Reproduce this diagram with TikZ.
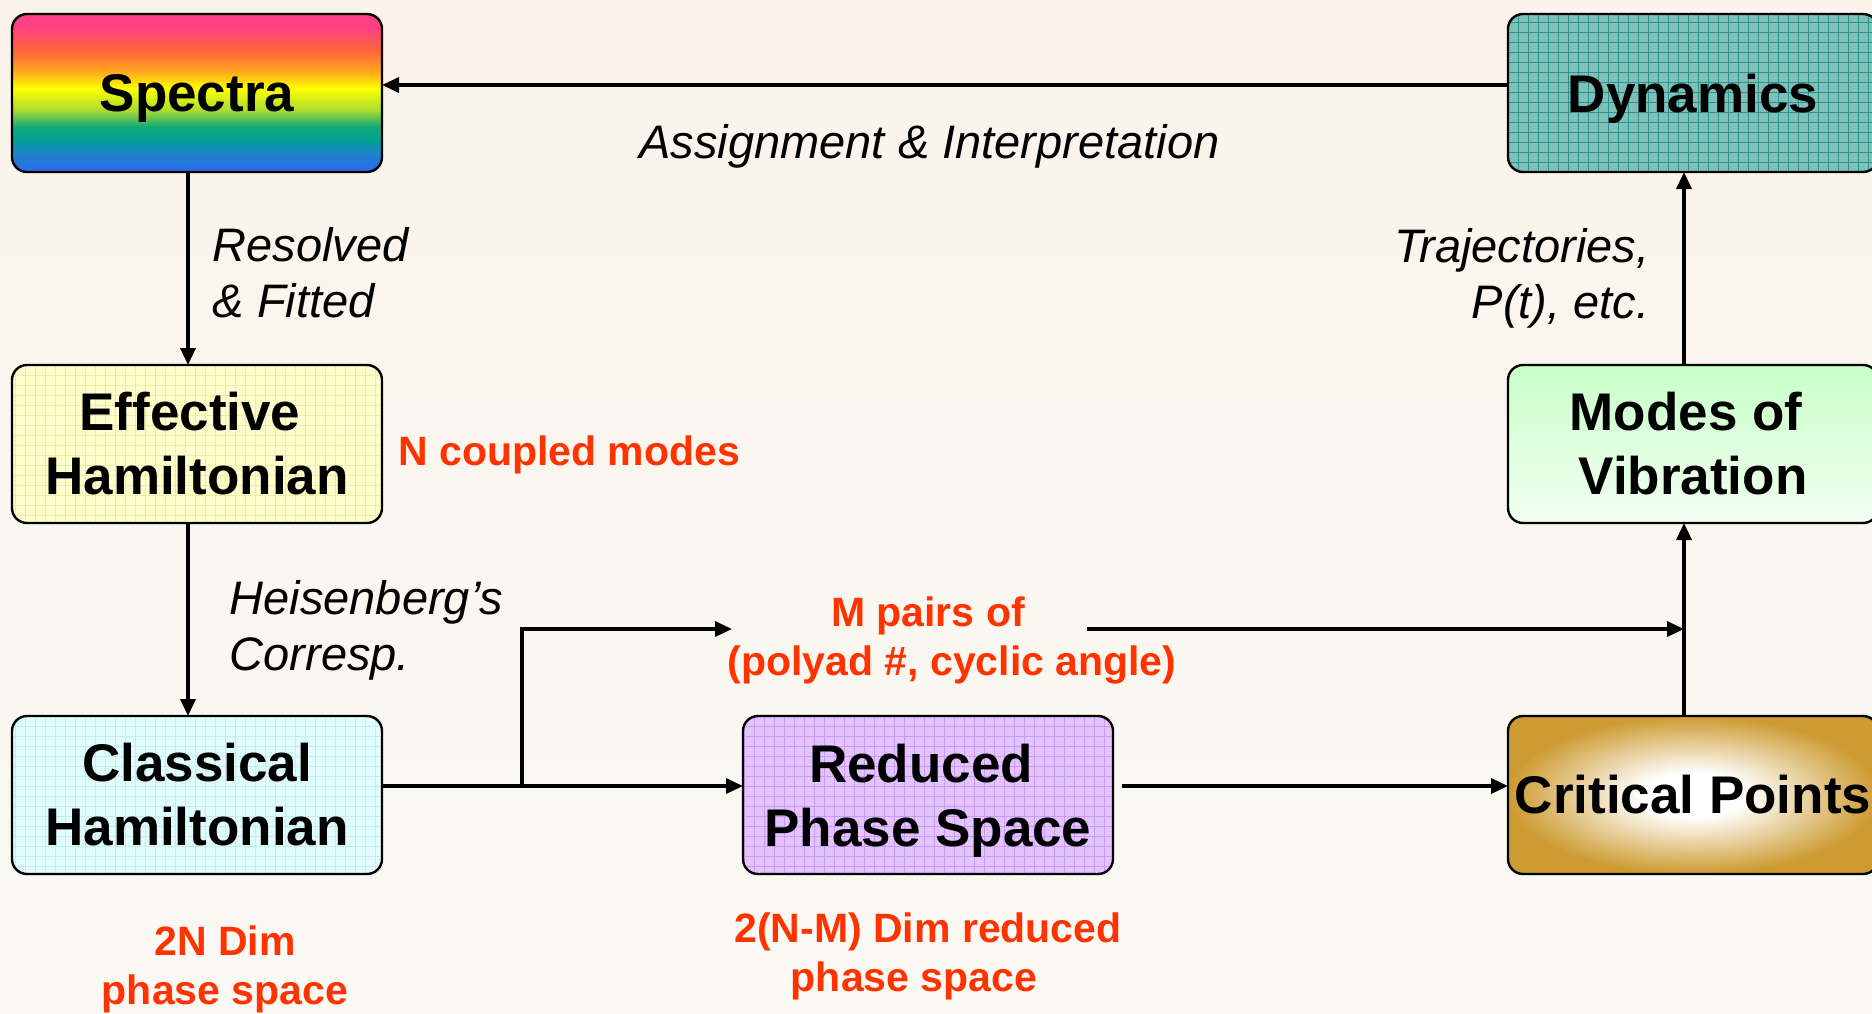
\documentclass[tikz,border=0pt]{standalone}
\usepackage{fontspec}
\setmainfont{Liberation Sans}
\usetikzlibrary{arrows.meta,positioning,calc}

\definecolor{bgtop}{RGB}{251,243,235}
\definecolor{bgbot}{RGB}{250,249,244}
\definecolor{notered}{RGB}{255,51,0}
\definecolor{effyellow}{RGB}{255,255,204}
\definecolor{effgrid}{RGB}{238,236,168}
\definecolor{clscyan}{RGB}{224,252,252}
\definecolor{clsgrid}{RGB}{200,236,236}
\definecolor{dynteal}{RGB}{128,192,184}
\definecolor{dyngrid}{RGB}{40,150,140}
\definecolor{rpslilac}{RGB}{228,196,255}
\definecolor{rpsgrid}{RGB}{200,155,245}
\definecolor{modetop}{RGB}{200,255,200}
\definecolor{modebot}{RGB}{242,255,242}
\definecolor{gold}{RGB}{205,155,50}
% rainbow stops, bottom (25bp) to top (75bp)
\definecolor{sp1}{RGB}{40,110,235}
\definecolor{sp2}{RGB}{30,130,200}
\definecolor{sp3}{RGB}{0,160,150}
\definecolor{sp4}{RGB}{20,170,120}
\definecolor{sp5}{RGB}{170,220,50}
\definecolor{sp6}{RGB}{255,255,0}
\definecolor{sp7}{RGB}{255,165,30}
\definecolor{sp8}{RGB}{255,100,60}
\definecolor{sp9}{RGB}{255,64,130}

\pgfdeclareverticalshading{spectrum}{100bp}{%
  color(0bp)=(sp1); color(26bp)=(sp1); color(31bp)=(sp2); color(35bp)=(sp3);
  color(39.5bp)=(sp4); color(44.5bp)=(sp5); color(51.5bp)=(sp6);
  color(57bp)=(sp7); color(63.5bp)=(sp8); color(71bp)=(sp9); color(100bp)=(sp9)}
\pgfdeclareradialshading{glow}{\pgfpoint{0bp}{0bp}}{%
  color(0bp)=(white); color(7bp)=(white); color(25bp)=(gold); color(50bp)=(gold)}

\newcommand\stagefont{\fontsize{26.5}{32}\selectfont\bfseries}
\newcommand\remarkfont{\fontsize{23.5}{28}\selectfont\itshape}
\newcommand\notefont{\fontsize{20.5}{24.5}\selectfont\bfseries}
\newcommand\trail{\hspace*{7pt}}

\tikzset{
    stage/.style={draw, rounded corners=7.5pt, line width=1.2pt, minimum width=185pt,
        minimum height=79pt, inner sep=2pt, outer sep=0pt, align=center, font=\stagefont},
    gridfill/.style={path picture={\draw[#1, line width=0.3pt, step=5pt]
        (path picture bounding box.south west) grid (path picture bounding box.north east);}},
    flow/.style={line width=1.7pt, -{Triangle[length=8.5pt,width=7.5pt]}},
    remark/.style={font=\remarkfont, align=left, inner sep=2pt},
    note/.style={font=\notefont, text=notered, align=center, inner sep=2pt}
}

\begin{document}
\begin{tikzpicture}[x=0.5pt, y=-0.5pt]
    \useasboundingbox (0,0) rectangle (1872,1013);
    \shade[top color=bgtop, bottom color=bgbot] (0,0) rectangle (1872,1013);

    % left column
    \node[stage, shading=spectrum, text depth=0pt] (spectra) at (197,93) {Spectra};
    \node[stage, fill=effyellow, gridfill=effgrid, below=96.5pt of spectra] (effham) {Effective\trail\\Hamiltonian};
    \node[stage, fill=clscyan, gridfill=clsgrid, below=96.5pt of effham] (clsham) {Classical\\Hamiltonian};
    % right column
    \node[stage, fill=dynteal, gridfill=dyngrid, text depth=0pt] (dynamics) at (1693,93) {Dynamics};
    \node[stage, top color=modetop, bottom color=modebot, below=96.5pt of dynamics] (modes) {Modes of\trail\\Vibration};
    \node[stage, shading=glow, below=96.5pt of modes] (critical) {Critical Points};
    % middle
    \node[stage, fill=rpslilac, gridfill=rpsgrid, right=180.5pt of clsham] (reduced) {Reduced\trail\\\smash{Phase Space}};

    \node[note, right=6pt of effham, yshift=-5.2pt] (ncoupled) {N coupled modes};
    \node[note, above=13.8pt of reduced, xshift=12pt] (pairs) {M pairs of\hspace*{24pt}\\(polyad \#, cyclic angle)};
    \node[note, below=23.5pt of clsham, xshift=14pt] (fulldim) {2N Dim\\phase space};
    \node[note, below=17pt of reduced] (reddim) {2(N-M) Dim reduced\\phase space\hspace*{14pt}};

    \coordinate (split) at (522,787);
    \coordinate (pairsin) at (732,629);
    \coordinate (pairsout) at (1087,629);
    \coordinate (join) at (1684,629);

    \path[flow] ([yshift=4pt]dynamics.west) edge node[remark, below, xshift=-7.75pt, yshift=-17pt] {Assignment \& Interpretation} ([yshift=4pt]spectra.east);
    \path[flow] ([xshift=-4.5pt]spectra.south) edge node[remark, right, xshift=9.5pt, yshift=-2pt] {Resolved\\\& Fitted} ([xshift=-4.5pt]effham.north);
    \path[flow] ([xshift=-4.5pt]effham.south) edge node[remark, right, xshift=18pt, yshift=-5.5pt] {Heisenberg’s\\Corresp.} ([xshift=-4.5pt]clsham.north);
    \path[flow] ([xshift=-4.5pt]modes.north) edge node[remark, left, align=right, xshift=-14.5pt, yshift=-5pt] {Trajectories,\\P(t), etc.} ([xshift=-4.5pt]dynamics.south);
    \path[flow] ([xshift=-4.5pt]critical.north) edge ([xshift=-4.5pt]modes.south);
    \path[flow] ([yshift=4.5pt]clsham.east) edge ([yshift=4.5pt]reduced.west);
    \path[flow] ([shift={(4.5pt,4.5pt)}]reduced.east) edge ([yshift=4.5pt]critical.west);
    \draw[flow] (split) |- (pairsin);
    \draw[flow] (pairsout) -- (join);
\end{tikzpicture}
\end{document}
